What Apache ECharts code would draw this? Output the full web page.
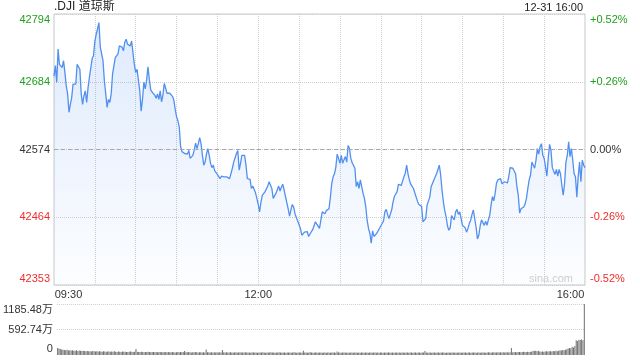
<!DOCTYPE html>
<html><head><meta charset="utf-8">
<script src="https://cdn.jsdelivr.net/npm/echarts@6/dist/echarts.min.js"></script>
<style>html,body{margin:0;padding:0;background:#fff}#c{width:640px;height:360px}</style>
</head><body><div id="c"></div>
<script>
const chartTitle = '.DJI 道琼斯';
const stampText = '12-31 16:00';
const prevClose = 42573.73;
const priceMin = 42353, priceMax = 42794;
const priceTicks = ['42353', '42464', '42574', '42684', '42794'];
const pctTicks = ['-0.52%', '-0.26%', '0.00%', '+0.26%', '+0.52%'];
const volMax = 1185.48;
const volTicks = ['0', '592.74万', '1185.48万'];
const xTickLabels = ['09:30', '12:00', '16:00'];

const prices = [
42693,42710,42683,42737,42712,42715,42707,42718,42699,42677,
42664,42634,42647,42658,42680,42680,42680,42712,42715,42704,
42664,42647,42661,42669,42650,42674,42691,42693,42721,42726,
42750,42761,42770,42780,42740,42737,42718,42685,42664,42642,
42655,42650,42664,42696,42697,42723,42721,42729,42742,42745,
42740,42734,42748,42753,42745,42748,42742,42750,42748,42712,
42699,42704,42704,42669,42636,42655,42683,42672,42686,42708,
42688,42671,42667,42665,42662,42657,42664,42655,42669,42651,
42662,42681,42678,42665,42666,42665,42664,42660,42654,42639,
42627,42620,42610,42578,42570,42572,42567,42570,42566,42572,
42559,42561,42564,42573,42584,42575,42583,42593,42583,42564,
42548,42553,42566,42575,42564,42551,42544,42548,42539,42540,
42533,42532,42526,42530,42529,42529,42532,42529,42526,42526,
42526,42543,42553,42560,42567,42572,42540,42551,42564,42563,
42564,42548,42526,42529,42525,42510,42514,42517,42503,42494,
42484,42472,42488,42499,42502,42505,42505,42514,42521,42519,
42510,42494,42497,42502,42501,42514,42506,42512,42517,42508,
42497,42487,42477,42465,42475,42484,42480,42469,42463,42457,
42454,42445,42434,42434,42439,42436,42440,42432,42436,42434,
42443,42443,42456,42452,42449,42445,42445,42472,42469,42469,
42474,42472,42477,42496,42518,42529,42534,42545,42566,42559,
42551,42564,42551,42557,42562,42553,42580,42575,42559,42552,
42549,42543,42513,42521,42510,42524,42513,42502,42494,42480,
42458,42445,42437,42421,42441,42432,42430,42437,42436,42445,
42445,42453,42457,42472,42476,42468,42461,42463,42475,42488,
42497,42496,42505,42517,42516,42515,42515,42529,42535,42548,
42534,42524,42517,42514,42510,42508,42496,42489,42484,42484,
42481,42456,42458,42461,42483,42485,42496,42513,42515,42524,
42529,42534,42537,42548,42532,42507,42488,42474,42464,42449,
42442,42446,42466,42469,42459,42472,42476,42468,42472,42461,
42450,42449,42446,42439,42445,42453,42458,42468,42475,42475,
42447,42428,42434,42449,42459,42456,42450,42457,42450,42459,
42466,42483,42497,42490,42502,42519,42524,42524,42526,42518,
42515,42521,42518,42519,42529,42544,42545,42543,42543,42534,
42513,42499,42470,42477,42480,42480,42485,42494,42510,42524,
42532,42553,42551,42543,42556,42575,42566,42578,42583,42564,
42559,42545,42530,42559,42582,42572,42544,42545,42533,42541,
42530,42541,42534,42515,42499,42518,42553,42564,42586,42562,
42575,42556,42534,42529,42496,42529,42553,42521,42556,42548,
42544
];

const volumes = [
165,150,142,128,120,118,112,120,106,110,
104,112,100,98,108,95,102,99,94,100,
92,88,95,86,90,84,92,88,80,86,
84,90,82,78,88,80,76,84,82,78,
80,74,86,78,72,80,76,70,82,75,
78,72,70,76,80,74,72,78,140,76,
72,68,74,70,66,72,68,75,70,64,
70,68,66,72,64,70,68,62,70,66,
68,64,70,62,66,68,64,60,66,70,
64,68,62,70,95,66,62,68,64,60,
66,62,68,64,60,66,62,58,64,60,
125,66,62,60,64,58,62,60,64,58,
62,60,115,64,58,62,60,56,62,58,
60,56,62,58,60,64,56,60,58,62,
56,60,58,54,62,58,56,60,54,58,
60,56,62,58,54,60,56,58,62,56,
58,54,60,56,62,58,54,60,56,52,
58,60,56,54,58,62,56,54,60,56,
58,54,100,60,56,54,58,62,56,54,
58,56,60,54,58,56,52,58,60,54,
56,58,54,60,56,58,54,80,58,56,
54,58,56,60,54,58,52,56,60,54,
58,56,54,58,52,56,60,54,58,56,
52,58,56,54,60,56,52,58,54,56,
58,54,56,52,58,56,60,54,56,52,
58,56,54,58,52,56,58,54,56,60,
54,58,56,52,56,60,54,58,56,54,
58,56,95,58,54,56,60,54,58,56,
52,58,56,54,58,56,60,54,52,58,
56,54,58,60,54,56,52,58,56,54,
58,56,60,54,58,56,52,58,56,60,
54,58,56,52,58,60,56,54,58,62,
56,60,58,62,56,60,64,58,62,60,
64,60,66,62,58,64,165,62,66,70,
64,68,72,66,70,74,68,72,76,70,
74,78,96,92,100,86,98,80,76,82,
78,84,88,80,86,90,84,92,88,96,
90,98,110,104,118,112,124,136,150,162,
158,190,176,210,340,328,355,350,362,345,
1185.48
];

const times = [];
for (let i = 0; i < prices.length; i++) {
  const m = 570 + i;
  times.push(String(Math.floor(m / 60)).padStart(2, '0') + ':' + String(m % 60).padStart(2, '0'));
}

const FONT = "'Liberation Sans', Arial, 'Noto Sans CJK SC', sans-serif";
const RED = '#f02c2c', GREEN = '#1f9f1f', DARK = '#333';
const priceStep = (priceMax - priceMin) / 4;
const tickColorKey = ['r', 'r', 'k', 'g', 'g'];
function richSet(size) {
  const cols = { r: RED, g: GREEN, k: DARK };
  const out = {};
  Object.keys(cols).forEach(function (k) {
    out[k] = { color: cols[k], fontSize: size, fontFamily: FONT };
    out[k + 'B'] = { color: cols[k], fontSize: size, fontFamily: FONT, padding: [0, 0, 12, 0] };
    out[k + 'T'] = { color: cols[k], fontSize: size, fontFamily: FONT, padding: [12, 0, 0, 0] };
  });
  return out;
}
function priceLabel(arr) {
  return function (v) {
    const i = Math.round((v - priceMin) / priceStep);
    if (i < 0 || i > 4) return '';
    const pos = i === 0 ? 'B' : (i === 4 ? 'T' : '');
    return '{' + tickColorKey[i] + pos + '|' + arr[i] + '}';
  };
}

const chart = echarts.init(document.getElementById('c'), null, { renderer: 'canvas' });
chart.setOption({
  animation: false,
  textStyle: { fontFamily: FONT },
  title: [
    { text: chartTitle, left: 54, top: 1, padding: 0, textStyle: { fontSize: 12, fontWeight: 'normal', color: '#222', fontFamily: FONT } },
    { text: stampText, right: 57, top: 2, padding: 0, textStyle: { fontSize: 11, fontWeight: 'normal', color: '#222', fontFamily: FONT } }
  ],
  graphic: [
    { type: 'text', right: 67, top: 273, silent: true, style: { text: 'sina.com', fill: '#cfcfcf', fontSize: 11, fontFamily: FONT } }
  ],
  grid: [
    { left: 54, right: 55, top: 14, height: 271, show: true, borderColor: '#c8c8c8', borderWidth: 1, backgroundColor: 'transparent' },
    { left: 54, right: 55, top: 304, height: 51, show: false }
  ],
  xAxis: [
    {
      type: 'category', gridIndex: 0, data: times, boundaryGap: false,
      axisLine: { show: false }, axisTick: { show: false },
      splitLine: { show: true, interval: function (i) { return i % 30 === 0 && i > 0 && i < 390; }, lineStyle: { color: '#cfcfcf', type: 'dotted', width: 1 } },
      axisLabel: {
        margin: 4, fontSize: 11, color: DARK, hideOverlap: false, showMinLabel: true, showMaxLabel: true,
        interval: function (i, v) { return xTickLabels.indexOf(v) >= 0; },
        formatter: function (v) {
          if (v === xTickLabels[0]) return '{l|' + v + '}';
          if (v === xTickLabels[2]) return '{r|' + v + '}';
          return v;
        },
        rich: {
          l: { fontSize: 11, color: DARK, fontFamily: FONT, padding: [0, 0, 0, 29] },
          r: { fontSize: 11, color: DARK, fontFamily: FONT, padding: [0, 29, 0, 0] }
        }
      }
    },
    {
      type: 'category', gridIndex: 1, data: times, boundaryGap: true,
      axisLine: { show: false }, axisTick: { show: false }, axisLabel: { show: false }, splitLine: { show: false }
    }
  ],
  yAxis: [
    {
      type: 'value', gridIndex: 0, position: 'left', min: priceMin, max: priceMax, interval: priceStep,
      axisLine: { show: false }, axisTick: { show: false },
      splitLine: { show: true, lineStyle: { color: '#cfcfcf', type: 'dotted', width: 1 } },
      axisLabel: { margin: 4, fontSize: 11, formatter: priceLabel(priceTicks), rich: richSet(11) }
    },
    {
      type: 'value', gridIndex: 0, position: 'right', min: priceMin, max: priceMax, interval: priceStep,
      axisLine: { show: false }, axisTick: { show: false }, splitLine: { show: false },
      axisLabel: { margin: 5, fontSize: 11, formatter: priceLabel(pctTicks), rich: richSet(11) }
    },
    {
      type: 'value', gridIndex: 1, position: 'left', min: 0, max: volMax, interval: volMax / 2,
      axisLine: { show: false }, axisTick: { show: false },
      splitLine: { show: true, lineStyle: { color: ['rgba(0,0,0,0)', '#cfcfcf', '#cfcfcf'], type: 'dotted', width: 1 } },
      axisLabel: {
        margin: 4, fontSize: 11,
        formatter: function (v) {
          const i = Math.round(v / (volMax / 2));
          const pos = i === 0 ? 'kB' : (i === 2 ? 'kT' : 'k');
          return '{' + pos + '|' + volTicks[i] + '}';
        },
        rich: richSet(11)
      }
    }
  ],
  series: [
    {
      type: 'line', xAxisIndex: 0, yAxisIndex: 0, data: prices, showSymbol: false, symbol: 'none',
      lineStyle: { color: '#5190f0', width: 1.3 },
      areaStyle: { origin: 'start', color: new echarts.graphic.LinearGradient(0, 0, 0, 1, [
        { offset: 0, color: 'rgba(74,140,242,0.26)' },
        { offset: 1, color: 'rgba(74,140,242,0.02)' }
      ]) },
      emphasis: { disabled: true },
      markLine: {
        silent: true, symbol: 'none', label: { show: false },
        lineStyle: { color: '#a8a8a8', type: [4, 3], width: 1 },
        data: [{ yAxis: prevClose }]
      }
    },
    {
      type: 'bar', xAxisIndex: 1, yAxisIndex: 2, data: volumes, barWidth: 0.8,
      itemStyle: { color: '#6f6f6f' }, emphasis: { disabled: true }
    }
  ]
});
</script>
</body></html>
